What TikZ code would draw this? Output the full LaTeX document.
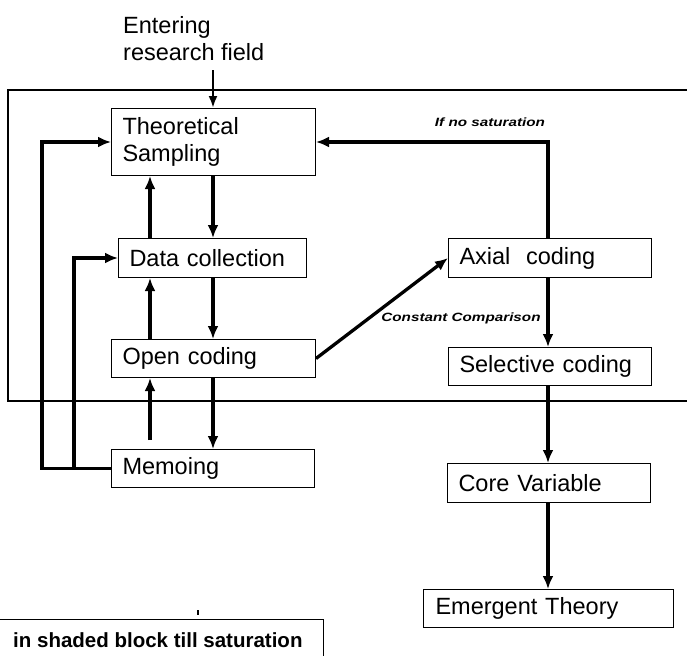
\documentclass[tikz,border=0pt]{standalone}
\usepackage{fontspec}
\setmainfont{Liberation Sans}
\newfontfamily\lblfont[FakeStretch=1.27]{Liberation Sans}
\usetikzlibrary{arrows.meta}

\tikzset{
  box/.style={draw, line width=1pt, anchor=north west, align=left,
    inner xsep=11pt, inner ysep=2pt, font=\fontsize{23.5}{27}\selectfont},
  arr/.style={line width=3.3pt, -{Latex[length=13pt,width=11pt]}},
  arrthin/.style={line width=2.3pt, -{Latex[length=12pt,width=9pt]}},
  frame/.style={line width=1.2pt},
  lbl/.style={font=\lblfont\fontsize{12}{14}\selectfont\bfseries\itshape, inner sep=0pt},
}

\begin{document}
\begin{tikzpicture}[x=1pt,y=-1pt]
\useasboundingbox (0,0) rectangle (687,656);

% shaded block (open on the right)
\draw[frame] (687,90) -- (8,90) -- (8,401) -- (687,401);

% column positions of the vertical connectors
\coordinate (c1) at (213,0);
\coordinate (c2) at (150,0);
\coordinate (c3) at (548,0);
\coordinate (l1) at (42,0);
\coordinate (l2) at (74,0);

% entry text
\node[anchor=base west, inner sep=0pt,
      font=\fontsize{23.5}{27}\selectfont] (enter) at (123,33) {Entering};
\node[anchor=base west, inner sep=0pt,
      font=\fontsize{23.5}{27}\selectfont] (enter2) at (123,60) {research field};

% process boxes
\node[box, text width=182pt, minimum height=67pt] (ts)  at (111,108) {Theoretical\\Sampling};
\node[box, text width=166pt, minimum height=39pt] (dc)  at (118,238) {Data collection};
\node[box, text width=182pt, minimum height=38pt] (oc)  at (111,339) {Open coding};
\node[box, text width=181pt, minimum height=38pt] (mem) at (111,449) {Memoing};
\node[box, text width=181pt, minimum height=39pt] (ax)  at (448,238) {Axial\ \ coding};
\node[box, text width=181pt, minimum height=38pt] (sel) at (448,347) {Selective coding};
\node[box, text width=181pt, minimum height=39pt] (cv)  at (447,463) {Core Variable};
\node[box, text width=226pt, minimum height=38pt, inner xsep=12pt] (et) at (423,589) {Emergent Theory};

% entry arrow
\coordinate (entry) at (213,70);
\draw[arrthin] (entry) -- (ts.north -| c1);

% downward flow
\draw[arr] (ts.south -| c1) -- (dc.north -| c1);
\draw[arr] (dc.south -| c1) -- (oc.north -| c1);
\draw[arr] (oc.south -| c1) -- (mem.north -| c1);

% upward flow
\draw[arr] (dc.north -| c2) -- (ts.south -| c2);
\draw[arr] (oc.north -| c2) -- (dc.south -| c2);
\coordinate (mtail) at (150,440);
\draw[arr] (mtail) -- (oc.south -| c2);

% memo feedback loops
\draw[arr] (mem.west) -- (mem.west -| l1) -- (ts.west -| l1) -- (ts.west);
\draw[arr] (mem.west -| l2) -- (dc.west -| l2) -- (dc.west);

% constant comparison
\draw[arr] (oc.east) -- (ax.west);
\node[lbl, anchor=base] (cc) at (461,321) {Constant Comparison};

% saturation loop
\draw[arr] (ax.north -| c3) -- (ts.east -| c3) -- (ts.east);
\node[lbl, anchor=base] (ns) at (490,126) {If no saturation};

% right column
\draw[arr] (ax.south -| c3) -- (sel.north -| c3);
\draw[arr] (sel.south -| c3) -- (cv.north -| c3);
\draw[arr] (cv.south -| c3) -- (et.north -| c3);

% caption box at the bottom
\draw[line width=1pt] (0,619) -- (323,619) -- (323,656);
\node[anchor=base west, inner sep=0pt, font=\fontsize{20.5}{24}\selectfont\bfseries]
  (cap) at (13,647) {in shaded block till saturation};
\fill (197.2,610) rectangle (199.2,615);
\end{tikzpicture}
\end{document}
